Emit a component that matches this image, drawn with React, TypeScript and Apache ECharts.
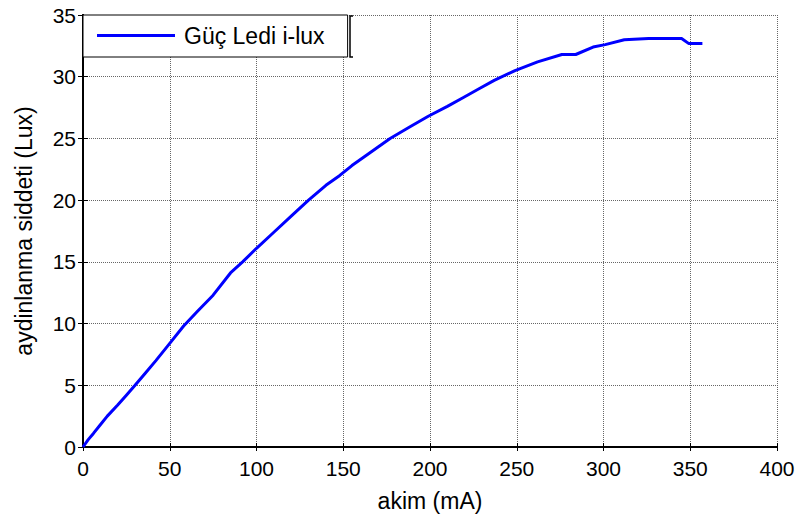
import React, { useEffect, useRef } from "react";
import * as echarts from "echarts";

// Current (mA) and illuminance (Lux) readings for the power LED
const currentMA = [
  0, 3, 6, 10, 14, 20, 25, 30, 36, 42, 50, 58, 66, 75, 85, 92, 100, 110, 120,
  130, 140, 148, 155, 165, 177, 188, 199, 210, 219, 228, 237, 249, 262, 276,
  284, 294, 301, 312, 326, 345, 349, 357,
];
const illuminanceLux = [
  0, 0.6, 1.1, 1.8, 2.5, 3.4, 4.2, 5.0, 6.0, 7.0, 8.4, 9.8, 11.0, 12.3, 14.1,
  15.0, 16.1, 17.4, 18.7, 20.0, 21.2, 22.0, 22.8, 23.8, 25.0, 25.9, 26.8, 27.6,
  28.3, 29.0, 29.7, 30.5, 31.2, 31.8, 31.8, 32.4, 32.6, 33.0, 33.1, 33.1, 32.7,
  32.7,
];
const seriesName = "Güç Ledi i-lux";
const xTitle = "akim (mA)";
const yTitle = "aydinlanma siddeti (Lux)";

const FONT = "Liberation Sans, Arial, sans-serif";
const TICK_FONT = 21;
const TITLE_FONT = 23;

export default function App() {
  const ref = useRef<HTMLDivElement>(null);

  useEffect(() => {
    if (!ref.current) return;
    const chart = echarts.init(ref.current, undefined, { renderer: "svg" });
    const points = currentMA.map((x, i) => [x, illuminanceLux[i]]);

    const baseX = {
      type: "value" as const,
      min: 0,
      max: 400,
      interval: 50,
    };
    const baseY = {
      type: "value" as const,
      min: 0,
      max: 35,
      interval: 5,
    };
    const gridLine = {
      show: true,
      lineStyle: { color: "#666", type: [1, 1], width: 1 },
    };

    chart.setOption({
      animation: false,
      backgroundColor: "#fff",
      textStyle: { fontFamily: FONT },
      grid: { left: 83, right: 21, top: 15, bottom: 72, containLabel: false },
      xAxis: [
        {
          ...baseX,
          position: "bottom",
          name: xTitle,
          nameLocation: "middle",
          nameGap: 42,
          nameTextStyle: { fontSize: TITLE_FONT, color: "#000", fontFamily: FONT },
          axisLine: { show: true, lineStyle: { color: "#000", width: 2 } },
          axisTick: { show: true, inside: true, length: 4, lineStyle: { color: "#000" } },
          axisLabel: { fontSize: TICK_FONT, color: "#000", margin: 11, fontFamily: FONT },
          splitLine: gridLine,
        },
        {
          ...baseX,
          position: "top",
          axisLine: { show: true, lineStyle: { color: "#000", width: 1 } },
          axisTick: { show: true, inside: true, length: 4, lineStyle: { color: "#000" } },
          axisLabel: { show: false },
          splitLine: { show: false },
        },
      ],
      yAxis: [
        {
          ...baseY,
          position: "left",
          name: yTitle,
          nameLocation: "middle",
          nameGap: 48,
          nameRotate: 90,
          nameTextStyle: { fontSize: TITLE_FONT, color: "#000", fontFamily: FONT },
          axisLine: { show: true, lineStyle: { color: "#000", width: 2 } },
          axisTick: { show: true, inside: true, length: 5, lineStyle: { color: "#000" } },
          axisLabel: { fontSize: TICK_FONT, color: "#000", margin: 7, fontFamily: FONT },
          splitLine: gridLine,
        },
        {
          ...baseY,
          position: "right",
          axisLine: { show: true, lineStyle: { color: "#000", width: 2 } },
          axisTick: { show: true, inside: true, length: 5, lineStyle: { color: "#000" } },
          axisLabel: { show: false },
          splitLine: { show: false },
        },
      ],
      legend: {
        left: 83,
        top: 15,
        backgroundColor: "#fff",
        borderColor: "#000",
        borderWidth: 1,
        borderRadius: 0,
        padding: [9, 23, 10, 14],
        itemWidth: 78,
        itemHeight: 3,
        itemGap: 0,
        textStyle: {
          fontSize: TITLE_FONT,
          color: "#000",
          fontFamily: FONT,
          padding: [0, 0, 0, 4],
        },
        data: [{ name: seriesName, icon: "rect", itemStyle: { color: "#0000ff" } }],
        selectedMode: false,
      },
      graphic: [
        {
          type: "polyline",
          shape: { points: [[353, 16], [350, 16], [350, 57], [353, 57]] },
          style: { stroke: "#000", lineWidth: 1.5, fill: "none" },
          z: 100,
        },
      ],
      series: [
        {
          name: seriesName,
          type: "line",
          data: points,
          xAxisIndex: 0,
          yAxisIndex: 0,
          showSymbol: false,
          symbol: "none",
          lineStyle: { color: "#0000ff", width: 3 },
          itemStyle: { color: "#0000ff" },
        },
      ],
    });

    return () => chart.dispose();
  }, []);

  return (
    <div
      ref={ref}
      style={{ position: "fixed", left: 0, top: 0, width: 798, height: 519 }}
    />
  );
}
